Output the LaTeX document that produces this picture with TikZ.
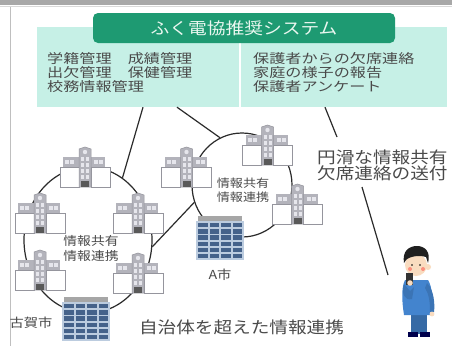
\documentclass[tikz,border=0pt]{standalone}
\usepackage{fontspec}
\newfontfamily\jp[FakeStretch=1.15]{Noto Sans CJK JP}
\newfontfamily\jpwide[FakeStretch=1.24]{Noto Sans CJK JP}
\usetikzlibrary{shapes.geometric}

\definecolor{barGray}{HTML}{A8A8A8}
\definecolor{panelCyan}{HTML}{C6F0E6}
\definecolor{titleGreen}{HTML}{1E9A72}
\definecolor{titleInk}{HTML}{EAF7F0}
\definecolor{inkGray}{HTML}{4A4A4A}
\definecolor{linkInk}{HTML}{2B2B2B}
\definecolor{iconGray}{HTML}{B3B3BB}
\definecolor{iconEdge}{HTML}{95959D}
\definecolor{iconLight}{HTML}{E6E6EC}
\definecolor{hallWin}{HTML}{45628A}
\definecolor{hallBody}{HTML}{BCCCDF}
\definecolor{suitBlue}{HTML}{4384CE}
\definecolor{skin}{HTML}{F9DCC0}

\tikzset{
  link/.style={draw=linkInk, line width=1.2pt},
  ring/.style={ellipse, draw=linkInk, line width=1.2pt, inner sep=0pt},
  panel/.style={fill=panelCyan, inner sep=0pt, minimum height=80pt},
  jtext/.style={text=inkGray, inner sep=0pt, align=left},
  pics/school/.style={code={
    % upper wings
    \fill[iconGray] (-22,10) rectangle (20,20);
    \foreach \wx in {-20,-15,9,14} \fill[iconLight] (\wx,12.5) rectangle ++(4,4);
    % lower wings
    \draw[iconEdge, fill=white, line width=0.7pt] (-25,20) rectangle (-6,40);
    \draw[iconEdge, fill=white, line width=0.7pt] (6,20) rectangle (25,40);
    % central tower
    \draw[iconEdge, fill=iconGray, line width=0.5pt] (-6,40) -- (-6,2) -- (0,0) -- (6,2) -- (6,40) -- cycle;
    \fill[iconLight] (0,5) circle (2.2);
    \foreach \wy in {10,16,22,28} {
      \fill[iconLight] (-4,\wy) rectangle ++(3,3.5);
      \fill[iconLight] (1,\wy) rectangle ++(3,3.5);
    }
    \fill[black!65] (-4,34) rectangle (4,40);
  }},
  pics/hall/.style={code={
    \fill[black!35] (-22,0) rectangle (22,5);
    \fill[hallBody] (-24,5) rectangle (24,44);
    \foreach \hc in {0,...,3}
      \foreach \hr in {0,...,5}
        \fill[hallWin] ({-22+\hc*11.5},{7+\hr*6.2}) rectangle ++(9.5,4.4);
  }}
}

\begin{document}
\begin{tikzpicture}[x=1pt,y=-1pt]
\useasboundingbox (0,0) rectangle (452,346);
\fill[white] (0,0) rectangle (452,346);

% window frame
\fill[barGray] (0,0) rectangle (452,5);
\draw[black!15, line width=1pt] (0,6.5) -- (452,6.5);
\draw[black!25, line width=1pt] (10,7) -- (10,346);

% system panels and title
\node[panel, minimum width=202pt] (PL) at (138,67) {};
\node[panel, minimum width=206pt] (PR) at (344,67) {};
\node[fill=titleGreen, rounded corners=5pt, minimum width=302pt, minimum height=30pt,
      inner sep=0pt, text=titleInk, font=\jp\fontsize{16.3}{16.3}\selectfont]
      (T) at (244,28) {ふく電協推奨システム};
\node[jtext, anchor=west, font=\jpwide\fontsize{13}{14}\selectfont] (LT) at (47,72.5)
  {学籍管理　成績管理\\出欠管理　保健管理\\校務情報管理};
\node[jtext, anchor=west, font=\jpwide\fontsize{13}{14}\selectfont] (RT) at (253,72.5)
  {保護者からの欠席連絡\\家庭の様子の報告\\保護者アンケート};

% the two municipal rings
\node[ring, minimum width=128pt, minimum height=146pt] (L) at (88,240) {};
\node[ring, minimum width=100pt, minimum height=104pt] (R) at (242,185) {};

% connectors
\draw[link] ([xshift=5pt]PL.south) -- (L.61);
\draw[link] ([xshift=39pt]PL.south) -- (R.115);
\draw[link] (L.-6) -- (R.200);
\coordinate (g1) at (337,137);
\coordinate (g2) at (362,187);
\coordinate (g3) at (388,275);
\draw[link] ([xshift=-19pt]PR.south) -- (g1);
\draw[link] (g2) -- (g3);

% schools on the Koga ring
\pic at (85,147) {school};
\pic at (40,193) {school};
\pic at (138,193) {school};
\pic at (40,250) {school};
\pic at (138,253) {school};
% schools on the A ring
\pic at (186.5,147) {school};
\pic at (267.5,125) {school};
\pic at (297.5,184) {school};

% city halls
\pic at (86,297) {hall};
\pic at (220,216) {hall};

% ring labels
\node[jtext, align=center, font=\jp\fontsize{12}{15}\selectfont] (LC) at (91,248) {情報共有\\情報連携};
\node[jtext, align=center, font=\jp\fontsize{11.4}{14.5}\selectfont] (RC) at (243,190) {情報共有\\情報連携};
\node[jtext, font=\jp\fontsize{12.4}{12.4}\selectfont] (KG) at (31,323) {古賀市};
\node[jtext, font=\jp\fontsize{12.4}{12.4}\selectfont] (AS) at (220,275) {A市};
\node[jtext, font=\jp\fontsize{16.2}{16.2}\selectfont] (BT) at (241.5,327) {自治体を超えた情報連携};
\node[jtext, anchor=west, font=\jp\fontsize{16.2}{16.2}\selectfont] (MT) at (317,165)
  {円滑な情報共有\\欠席連絡の送付};

% parent on the phone
\fill[suitBlue!80!black] (411,310) rectangle (427,334);
\fill[black!70!blue] (408,332) rectangle (418,337);
\fill[black!70!blue] (420,332) rectangle (430,337);
\fill[suitBlue] (405,280) .. controls (401,288) and (402,302) .. (404,315)
  -- (430,315) .. controls (433,302) and (433,288) .. (428,280) -- cycle;
\fill[suitBlue!88!black] (427,283) .. controls (434,290) and (435,304) .. (434,312)
  -- (430,312) .. controls (430,302) and (429,294) .. (425,288) -- cycle;
\fill[skin] (432,314) circle (2.4);
\fill[suitBlue!88!black] (404,284) .. controls (401,294) and (405,301) .. (412,299)
  -- (414,287) -- (410,291) -- cycle;
\fill[skin] (416,265) circle (11);
\fill[skin] (428,267) circle (3);
\fill[black!88] (404,263) .. controls (402,251) and (409,246) .. (417,246)
  .. controls (425,246) and (431,252) .. (428,263)
  -- (426,257) .. controls (420,255) and (410,256) .. (406,260) -- cycle;
\fill[black] (412,265) circle (0.9);
\fill[black] (420,265) circle (0.9);
\fill[red!35!skin] (410,269) circle (2);
\fill[red!35!skin] (423,269) circle (2);
\fill[black!80] (406,273) rectangle (413,285);
\fill[skin] (410,283) circle (2.8);
\end{tikzpicture}
\end{document}
